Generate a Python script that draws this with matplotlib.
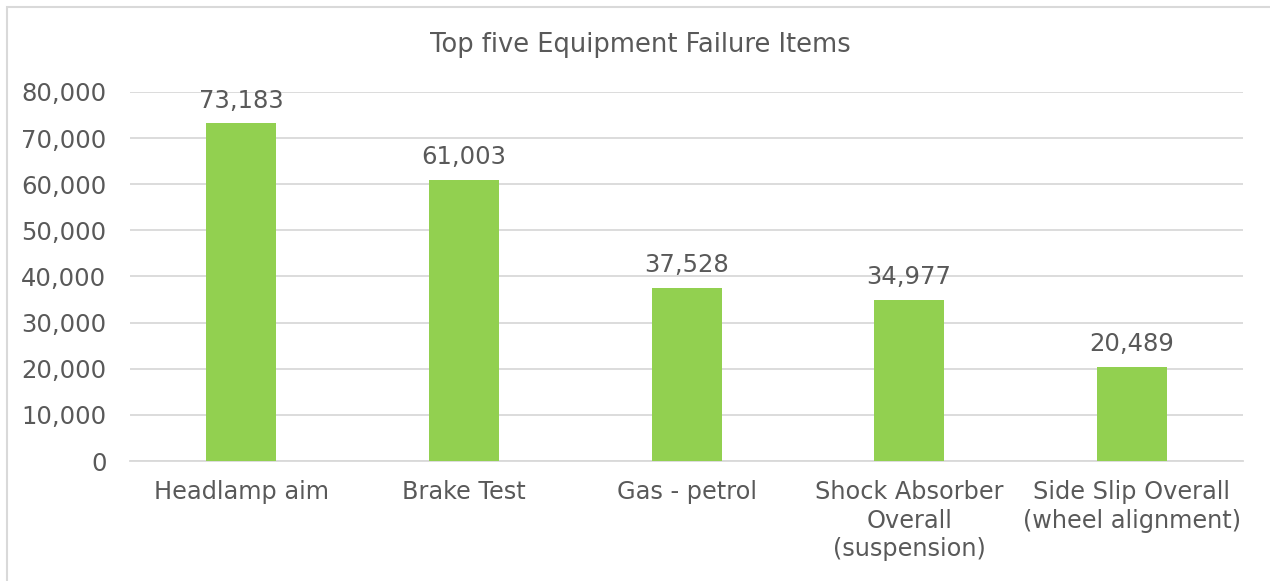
import matplotlib.pyplot as plt
from matplotlib.ticker import FuncFormatter
from matplotlib.patches import Rectangle

categories = ["Headlamp aim", "Brake Test", "Gas - petrol",
              "Shock Absorber\nOverall\n(suspension)",
              "Side Slip Overall\n(wheel alignment)"]
values = [73183, 61003, 37528, 34977, 20489]
yticks = [0, 10000, 20000, 30000, 40000, 50000, 60000, 70000, 80000]

text_col = "#595959"
grid_col = "#D9D9D9"
bar_col = "#92D050"

plt.rcParams["font.family"] = "DejaVu Sans"

fig = plt.figure(figsize=(12.7, 5.81), dpi=100)
# chart-area border (only top/left fall inside the image)
fig.patches.append(Rectangle((7 / 1270, -0.1), 1.1, 1.1 - 7 / 581, transform=fig.transFigure,
                             fill=False, edgecolor=grid_col, linewidth=1.5))
ax = fig.add_axes([0.1024, 0.2065, 0.8764, 0.6352])

x = range(len(categories))
ax.bar(x, values, width=0.315, color=bar_col, zorder=3)
for xi, v in zip(x, values):
    ax.text(xi, v + 2300, f"{v:,}", ha="center", va="bottom",
            fontsize=17.5, color=text_col)

ax.set_ylim(0, 80000)
ax.set_xlim(-0.5, len(categories) - 0.5)
ax.set_yticks(yticks)
ax.yaxis.set_major_formatter(FuncFormatter(lambda v, p: f"{int(v):,}"))
ax.set_xticks(list(x))
ax.set_xticklabels(categories, fontsize=17.3, color=text_col, linespacing=1.22)
ax.tick_params(axis="y", labelsize=17.5, labelcolor=text_col, length=0, pad=17)
ax.tick_params(axis="x", length=0, pad=14)
ax.grid(axis="y", color=grid_col, linewidth=1.3, zorder=0)
for s in ["top", "right", "left"]:
    ax.spines[s].set_visible(False)
ax.spines["bottom"].set_color(grid_col)
ax.spines["bottom"].set_linewidth(1.3)

fig.text(0.504, 0.923, "Top five Equipment Failure Items", ha="center", va="center",
         fontsize=18.5, color=text_col)

fig.savefig("out.png", dpi=100)
